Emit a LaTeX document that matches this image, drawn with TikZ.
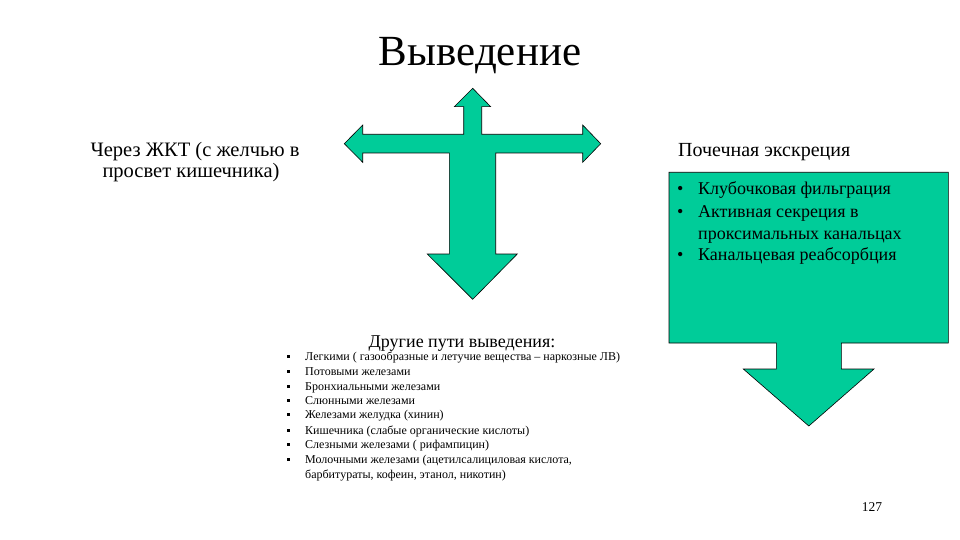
\documentclass[tikz,border=0pt]{standalone}
\usepackage{fontspec}
\setmainfont{Liberation Serif}
\definecolor{teal1}{RGB}{0,204,153}
\tikzset{
  shapefill/.style={fill=teal1, draw=black, line width=0.6pt, line join=miter},
  lbl/.style={inner sep=0pt, anchor=base west, font=\fontsize{18}{21}\selectfont},
  small/.style={inner sep=0pt, anchor=base west, font=\fontsize{12}{14}\selectfont},
}
\begin{document}
\begin{tikzpicture}[x=1pt,y=-1pt]
\useasboundingbox (0,0) rectangle (960,540);
% cross arrow
\draw[shapefill] (472.7,88.3) -- (490.7,106.7) -- (481.7,106.7) -- (481.7,134.3)
  -- (582.7,134.3) -- (582.7,125) -- (600.7,143.7) -- (582.7,162.3) -- (582.7,153)
  -- (495.7,153) -- (495.7,254) -- (517.3,254) -- (472.7,299.3) -- (427.3,254)
  -- (449.3,254) -- (449.3,153) -- (362.7,153) -- (362.7,162.3) -- (344.3,143.7)
  -- (362.7,125) -- (362.7,134.3) -- (463.7,134.3) -- (463.7,106.7) -- (454.3,106.7) -- cycle;
% box with down arrow
\draw[shapefill] (669,172.3) -- (948.3,172.3) -- (948.3,343) -- (841.3,343) -- (841.3,369)
  -- (874,369) -- (808.8,426) -- (743.3,369) -- (776.3,369) -- (776.3,343) -- (669,343) -- cycle;
% title
\node[inner sep=0pt, anchor=base, font=\fontsize{43}{50}\selectfont] (title) at (480,66) {Выведение};
% left text
\node[inner sep=0pt, anchor=base, font=\fontsize{20.5}{24}\selectfont] (gi1) at (195,157) {Через ЖКТ (с желчью в};
\node[inner sep=0pt, anchor=base, font=\fontsize{20.5}{24}\selectfont] (gi2) at (191,178) {просвет кишечника)};
% right title
\node[inner sep=0pt, anchor=base west, font=\fontsize{20}{24}\selectfont] (ren) at (678,157) {Почечная экскреция};
% box bullets
\node[lbl] (b1) at (677,194) {•};
\node[lbl] (t1) at (698,194) {Клубочковая фильграция};
\node[lbl] (b2) at (677,217) {•};
\node[lbl] (t2) at (698,217) {Активная секреция в};
\node[lbl] (t3) at (698,239) {проксимальных канальцах};
\node[lbl] (b3) at (677,260) {•};
\node[lbl] (t4) at (698,260) {Канальцевая реабсорбция};
% other routes
\node[inner sep=0pt, anchor=base, font=\fontsize{18}{21}\selectfont] (oth) at (462,347) {Другие пути выведения:};
\foreach \y/\t [count=\i] in {
  360/{Легкими ( газообразные и летучие вещества – наркозные ЛВ)},
  375/{Потовыми железами},
  390/{Бронхиальными железами},
  404/{Слюнными железами},
  418/{Железами желудка (хинин)},
  434/{Кишечника (слабые органические кислоты)},
  448/{Слезными железами ( рифампицин)},
  463/{Молочными железами (ацетилсалициловая кислота,}}{
  \fill (287,\y-5.5) rectangle (290,\y-2.5);
  \node[small] (l\i) at (305,\y) {\t};
}
\node[small] (l9) at (305,478) {барбитураты, кофеин, этанол, никотин)};
% page number
\node[inner sep=0pt, anchor=base, font=\fontsize{13.5}{16}\selectfont] (pg) at (872,511) {127};
\end{tikzpicture}
\end{document}
